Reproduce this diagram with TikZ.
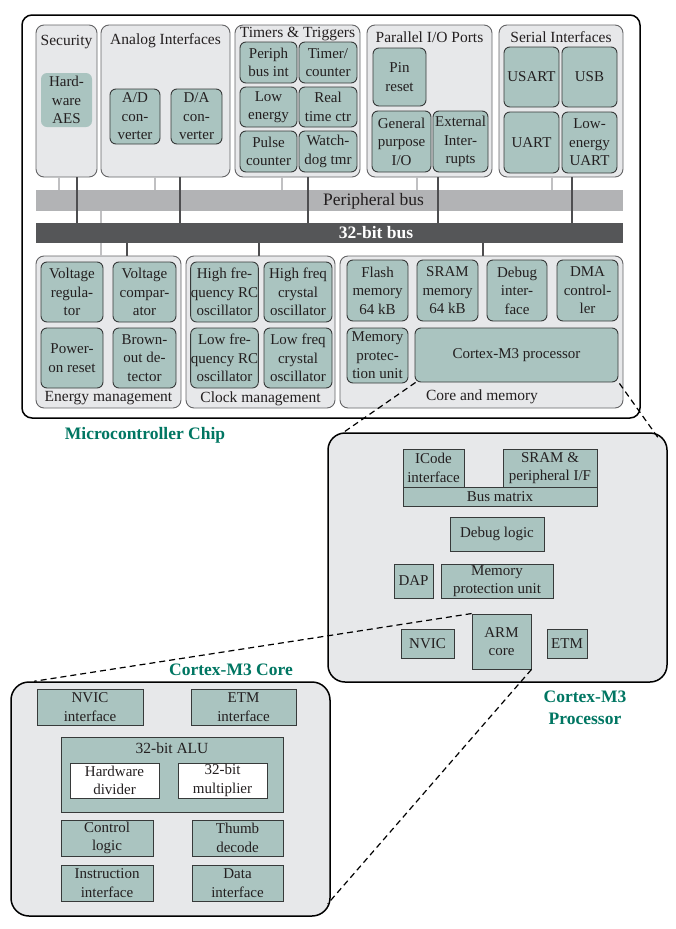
\documentclass[tikz,border=0pt]{standalone}
\usepackage{fontspec}
\setmainfont{Liberation Serif}
\usetikzlibrary{calc}
\definecolor{tealfill}{RGB}{170,196,192}
\definecolor{grpfill}{RGB}{231,232,234}
\definecolor{grpline}{RGB}{100,100,102}
\definecolor{nodeline}{RGB}{55,58,58}
\definecolor{txt}{RGB}{35,31,32}
\definecolor{heading}{RGB}{0,118,98}
\definecolor{pbusc}{RGB}{178,179,181}
\definecolor{wbusc}{RGB}{85,86,88}
\definecolor{lconc}{RGB}{192,192,194}
\definecolor{dconc}{RGB}{78,78,80}
\newcommand\myfsn{\fontsize{15}{18.5}\selectfont}
\newcommand\myfst{\fontsize{15.5}{18.5}\selectfont}
\newcommand\myfbus{\fontsize{17.5}{20}\selectfont}
\newcommand\myfhd{\fontsize{17.5}{22}\selectfont\bfseries}
\begin{document}
\begin{tikzpicture}[x=1pt,y=-1pt,
  wh/.style 2 args={minimum width=#1,minimum height=#2},
  bigbox/.style={draw=black, line width=1.5pt, inner sep=0pt},
  grp/.style={draw=grpline, fill=grpfill, rounded corners=8pt, line width=0.9pt, inner sep=0pt},
  rn/.style={draw=nodeline, fill=tealfill, rounded corners=6pt, line width=0.9pt, align=center, inner sep=0.3pt, font=\myfsn, text=txt},
  sn/.style={draw=nodeline, fill=tealfill, line width=0.9pt, align=center, inner sep=0.3pt, font=\myfsn, text=txt},
  wn/.style={sn, fill=white},
  ttl/.style={font=\myfst, text=txt, inner sep=0pt},
  hd/.style={font=\myfhd, text=heading, align=center, inner sep=0pt},
  lcon/.style={draw=lconc, line width=1.5pt},
  dcon/.style={draw=dconc, line width=1.5pt},
  dsh/.style={draw=black, line width=1.2pt, dash pattern=on 6pt off 4pt}
]
\useasboundingbox (0,0) rectangle (675,929);

% ---------- chip ----------
\node[bigbox, fill=white, rounded corners=10pt, wh={618}{403}] (chip) at (331,216.5) {};
\node[hd] (chiplbl) at (145,435) {Microcontroller Chip};

% ---------- top groups ----------
\node[grp, wh={61}{152}] (sec) at (66.5,101) {};
\node[grp, wh={129}{152}] (ana) at (165.5,101) {};
\node[grp, wh={125}{152}] (tim) at (297.5,101) {};
\node[grp, wh={125}{152}] (par) at (429.5,101) {};
\node[grp, wh={124}{152}] (ser) at (561,101) {};

\node[ttl, anchor=base] (sect) at (66.5,45) {Security};
\node[ttl, anchor=base] (anat) at (165.5,44.5) {Analog Interfaces};
\node[ttl, anchor=base] (timt) at (297.5,37.5) {Timers \& Triggers};
\node[ttl, anchor=base] (part) at (429.5,42) {Parallel I/O Ports};
\node[ttl, anchor=base] (sert) at (561,42) {Serial Interfaces};

\node[rn, draw=none, wh={51}{54}] (aes) at (66.5,100) {Hard-\\ware\\AES};
\node[rn, wh={50}{55}] (adc) at (135,116.5) {A/D\\con-\\verter};
\node[rn, wh={51}{55}] (dac) at (196.5,116.5) {D/A\\con-\\verter};

\node[rn, wh={57}{41}] (pbi) at (268.5,62.5) {Periph\\bus int};
\node[rn, wh={58}{41}] (tmc) at (328,62.5) {Timer/\\counter};
\node[rn, wh={57}{40}] (len) at (268.5,107) {Low\\energy};
\node[rn, wh={58}{40}] (rtc) at (328,107) {Real\\time ctr};
\node[rn, wh={57}{41}] (pls) at (268.5,151.5) {Pulse\\counter};
\node[rn, wh={58}{41}] (wdt) at (328,151.5) {Watch-\\dog tmr};

\node[rn, wh={53}{58}] (pin) at (399.5,77) {Pin\\reset};
\node[rn, wh={59}{61}] (gpio) at (401.5,141.5) {General\\purpose\\I/O};
\node[rn, wh={55}{61}] (ext) at (460.5,141.5) {External\\Inter-\\rupts};

\node[rn, wh={55}{60}] (usart) at (531.5,77) {USART};
\node[rn, wh={55}{60}] (usb) at (589.5,77) {USB};
\node[rn, wh={55}{61}] (uart) at (531.5,142.5) {UART};
\node[rn, wh={55}{61}] (leuart) at (589.5,142.5) {Low-\\energy\\UART};

% ---------- bottom groups ----------
\node[grp, wh={145}{152}] (ene) at (108.5,332) {};
\node[grp, wh={149}{152}] (clk) at (260.5,332) {};
\node[grp, wh={283}{152}] (com) at (481.5,332) {};

\node[rn, wh={62}{60}] (vreg) at (72,292) {Voltage\\regula-\\tor};
\node[rn, wh={63}{60}] (vcmp) at (144.5,292) {Voltage\\compar-\\ator};
\node[rn, wh={62}{60}] (por) at (72,358) {Power-\\on reset};
\node[rn, wh={63}{60}] (bod) at (144.5,358) {Brown-\\out de-\\tector};
\node[ttl] (enet) at (108.5,398) {Energy management};

\node[rn, wh={67}{60}] (hfrc) at (224.5,292) {High fre-\\quency RC\\oscillator};
\node[rn, wh={68}{60}] (hfx) at (298,292) {High freq\\crystal\\oscillator};
\node[rn, wh={67}{60}] (lfrc) at (224.5,358) {Low fre-\\quency RC\\oscillator};
\node[rn, wh={68}{60}] (lfx) at (298,358) {Low freq\\crystal\\oscillator};
\node[ttl] (clkt) at (260.5,399) {Clock management};

\node[rn, wh={61}{61}] (flash) at (377.5,290.5) {Flash\\memory\\64 kB};
\node[rn, wh={61}{61}] (sram) at (447.5,290.5) {SRAM\\memory\\64 kB};
\node[rn, wh={60}{61}] (dbgi) at (517,290.5) {Debug\\inter-\\face};
\node[rn, wh={61}{61}] (dma) at (587.5,290.5) {DMA\\control-\\ler};
\node[rn, wh={61}{55}] (mpu) at (377.5,355.5) {Memory\\protec-\\tion unit};
\node[rn, wh={203}{54}] (cmp) at (516.5,355) {Cortex-M3 processor};
\node[ttl] (comt) at (482,397) {Core and memory};

% ---------- buses and connectors ----------
\coordinate (l1) at (59,0);  \coordinate (l2) at (155,0); \coordinate (l3) at (282,0);
\coordinate (l4) at (417,0); \coordinate (l5) at (552,0); \coordinate (l6) at (101,0);
\coordinate (d1) at (77,0);  \coordinate (d2) at (180,0); \coordinate (d3) at (308,0);
\coordinate (d4) at (438,0); \coordinate (d5) at (572,0);
\coordinate (d6) at (127,0); \coordinate (d7) at (259,0); \coordinate (d8) at (483,0);

\node[fill=pbusc, inner sep=0pt, wh={587}{21}] (pbus) at (329.5,200.5) {};
\node[fill=wbusc, inner sep=0pt, wh={587}{20}] (wbus) at (329.5,233) {};

\draw[lcon] (sec.south -| l1) -- (pbus.north -| l1);
\draw[lcon] (ana.south -| l2) -- (pbus.north -| l2);
\draw[lcon] (tim.south -| l3) -- (pbus.north -| l3);
\draw[lcon] (par.south -| l4) -- (pbus.north -| l4);
\draw[lcon] (ser.south -| l5) -- (pbus.north -| l5);
\draw[lcon] (pbus.south -| l6) -- (ene.north -| l6);

\draw[dcon] (sec.south -| d1) -- (wbus.north -| d1);
\draw[dcon] (ana.south -| d2) -- (wbus.north -| d2);
\draw[dcon] (tim.south -| d3) -- (wbus.north -| d3);
\draw[dcon] (par.south -| d4) -- (wbus.north -| d4);
\draw[dcon] (ser.south -| d5) -- (wbus.north -| d5);
\draw[dcon] (wbus.south -| d6) -- (ene.north -| d6);
\draw[dcon] (wbus.south -| d7) -- (clk.north -| d7);
\draw[dcon] (wbus.south -| d8) -- (com.north -| d8);

\node[fill=wbusc, inner sep=0pt, wh={587}{20}] (wbus2) at (329.5,233) {};
\node[font=\myfbus, text=txt, inner sep=0pt] (pbuslbl) at (373.5,201) {Peripheral bus};
\node[font=\myfbus\bfseries, text=white, inner sep=0pt] (wbuslbl) at (376,233) {32-bit bus};

% ---------- Cortex-M3 processor ----------
\node[bigbox, fill=grpfill, rounded corners=17pt, wh={339}{249}] (proc) at (497.5,557.5) {};
\node[sn, wh={61}{38}] (icode) at (433.5,468) {ICode\\interface};
\node[sn, wh={94}{38}] (srampif) at (550,468) {SRAM \&\\peripheral I/F};
\node[sn, wh={194}{19}] (busm) at (500,496.5) {Bus matrix};
\node[sn, wh={94}{34}] (dbgl) at (497,534) {Debug logic};
\node[sn, wh={39}{34}] (dap) at (413.5,581) {DAP};
\node[sn, wh={112}{34}] (pmpu) at (497,581) {Memory\\protection unit};
\node[sn, wh={53}{29}] (nvic) at (427.5,643.5) {NVIC};
\node[sn, wh={59}{55}] (arm) at (501.5,641.5) {ARM\\core};
\node[sn, wh={40}{29}] (etm) at (567,643.5) {ETM};
\node[hd] (proclbl) at (585,708) {Cortex-M3\\Processor};

% ---------- Cortex-M3 core ----------
\node[bigbox, fill=grpfill, rounded corners=18pt, wh={319}{234}] (core) at (170.5,799) {};
\node[hd] (corelbl) at (231,670) {Cortex-M3 Core};
\node[sn, wh={106}{36}] (nvici) at (90,707) {NVIC\\interface};
\node[sn, wh={105}{36}] (etmi) at (243.5,707) {ETM\\interface};
\node[sn, wh={222}{75}] (alu) at (172,774.5) {};
\node[ttl] (alut) at (172,748) {32-bit ALU};
\node[wn, wh={89}{35}] (hdiv) at (114.5,780.5) {Hardware\\divider};
\node[wn, wh={89}{35}] (mult) at (222.5,780.5) {32-bit\\multiplier};
\node[sn, wh={92}{36}] (ctrl) at (107,838) {Control\\logic};
\node[sn, wh={91}{36}] (thumb) at (237.5,838) {Thumb\\decode};
\node[sn, wh={92}{36}] (instr) at (107,883) {Instruction\\interface};
\node[sn, wh={91}{36}] (datai) at (237.5,883) {Data\\interface};

% ---------- zoom lines ----------
\draw[dsh] ($(cmp.south west)+(1,0)$) -- ($(proc.north west)+(15,1)$);
\draw[dsh] ($(cmp.south east)+(1,1)$) -- ($(proc.north east)+(-10,5)$);
\draw[dsh] (arm.north west) -- ($(core.north west)+(24,0)$);
\draw[dsh] (arm.south east) -- ($(core.south east)+(-3,-13)$);
\end{tikzpicture}
\end{document}
